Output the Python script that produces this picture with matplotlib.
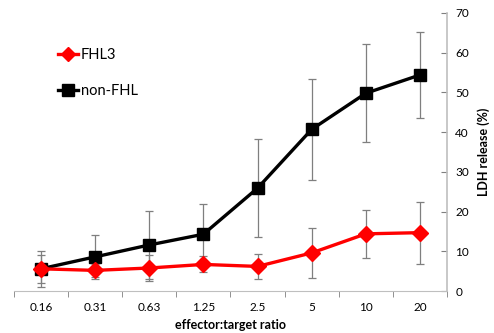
import numpy as np
import matplotlib
matplotlib.use("Agg")
import matplotlib.pyplot as plt
from matplotlib.lines import Line2D

# data
ratios = ["0.16", "0.31", "0.63", "1.25", "2.5", "5", "10", "20"]
fhl3 = [5.6, 5.2, 5.8, 6.7, 6.2, 9.6, 14.4, 14.7]
fhl3_err = [3.5, 1.7, 3.2, 2.0, 3.2, 6.2, 6.0, 7.8]
nonfhl = [5.6, 8.6, 11.6, 14.3, 25.9, 40.7, 49.8, 54.4]
nonfhl_err = [4.6, 5.5, 8.5, 7.6, 12.4, 12.7, 12.3, 10.8]

plt.rcParams["font.family"] = ["Lato", "DejaVu Sans"]

fig = plt.figure(figsize=(4.94, 3.33), dpi=100)
ax = fig.add_axes([0.028, 0.126, 0.877, 0.835])

x = np.arange(len(ratios))
gray = "#7f7f7f"

ax.errorbar(x, nonfhl, yerr=nonfhl_err, color="black", lw=2.4, marker="s",
            ms=9, ecolor=gray, elinewidth=0.9, capsize=3, capthick=0.9,
            zorder=3)
ax.errorbar(x, fhl3, yerr=fhl3_err, color="#ff0000", lw=2.4, marker="D",
            ms=8, ecolor=gray, elinewidth=0.9, capsize=3, capthick=0.9,
            zorder=4)

ax.set_xlim(-0.5, len(ratios) - 0.5)
ax.set_ylim(0, 70)

# x axis: labels at category centres, tick marks at boundaries
ax.set_xticks(x)
ax.set_xticklabels(ratios, fontsize=8.5)
ax.tick_params(axis="x", which="major", length=0, pad=8)
ax.set_xticks(np.arange(len(ratios) + 1) - 0.5, minor=True)
ax.tick_params(axis="x", which="minor", length=4, color=gray, direction="out")

# y axis on the right
ax.yaxis.tick_right()
ax.yaxis.set_label_position("right")
ax.set_yticks(range(0, 71, 10))
ax.tick_params(axis="y", length=4, color=gray, direction="in", labelsize=8.5, pad=6)

for side in ["top", "left"]:
    ax.spines[side].set_visible(False)
ax.spines["bottom"].set_color("#bfbfbf")
ax.spines["right"].set_color("#bfbfbf")
ax.spines["right"].set_linewidth(1.2)

ax.set_xlabel("effector:target ratio", fontsize=9, fontweight="bold", labelpad=4)
ax.set_ylabel("LDH release (%)", fontsize=9, fontweight="bold", labelpad=6)

# legend without the error bars
handles = [
    Line2D([], [], color="#ff0000", lw=2.4, marker="D", ms=7),
    Line2D([], [], color="black", lw=2.4, marker="s", ms=8),
]
ax.legend(handles, ["FHL3", "non-FHL"], loc="upper left",
          bbox_to_anchor=(0.09, 0.895), bbox_transform=fig.transFigure,
          frameon=False, fontsize=10.5, labelspacing=1.5, handlelength=1.4,
          handletextpad=0.2)

fig.savefig("out.png", dpi=100)
